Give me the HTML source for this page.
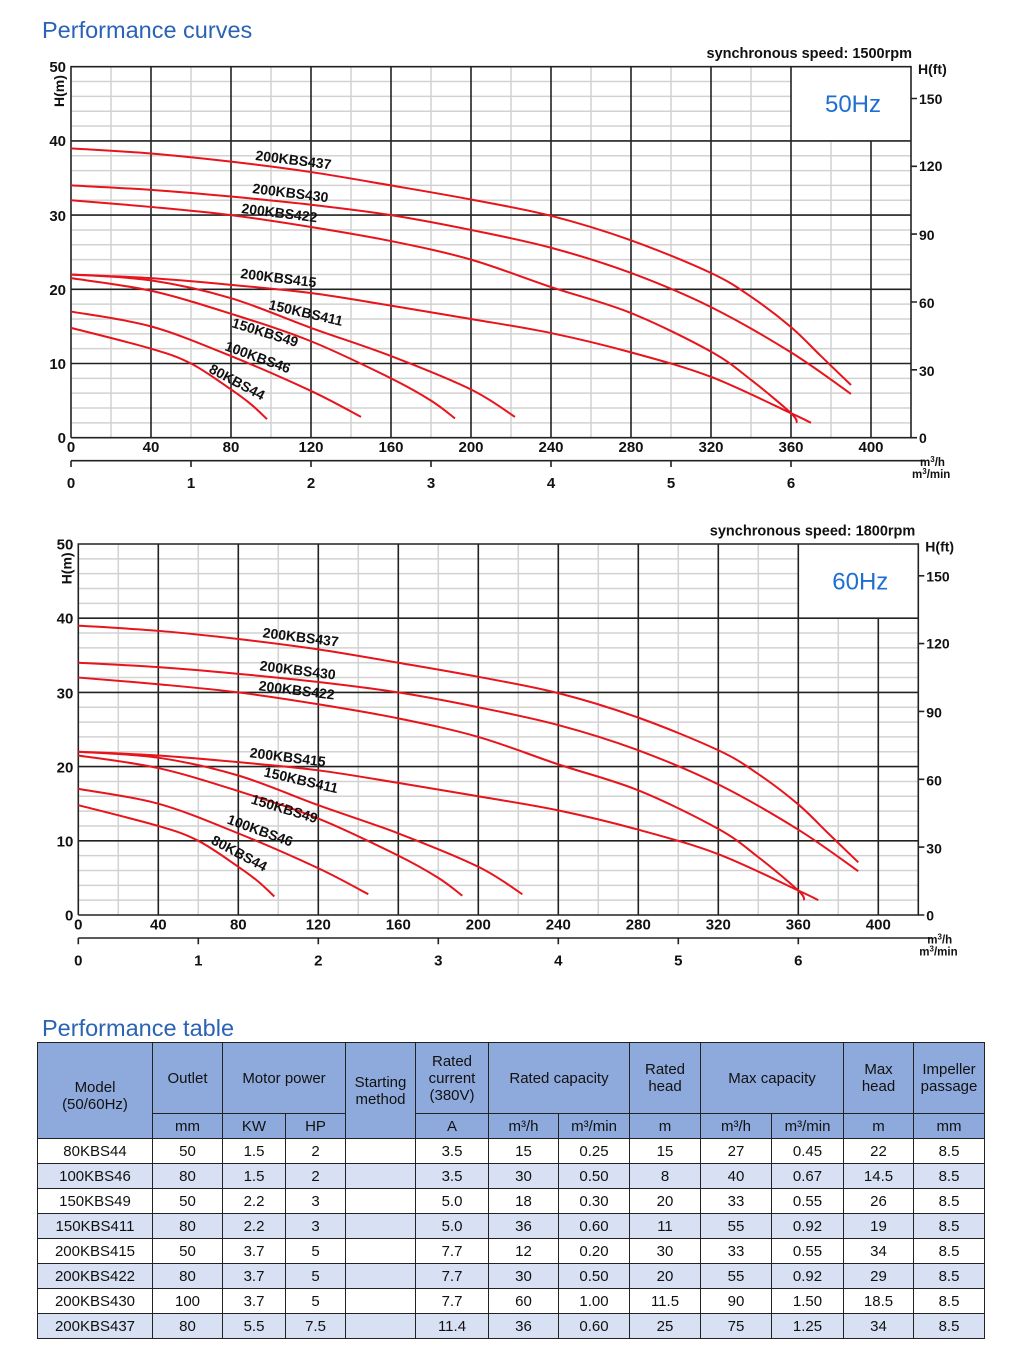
<!DOCTYPE html>
<html><head><meta charset="utf-8"><style>
body{margin:0;background:#fff;width:1021px;height:1359px;position:relative;font-family:"Liberation Sans",sans-serif;overflow:hidden}
.t{position:absolute;color:#2a62b5;font-size:23.5px;left:42px}
table{position:absolute;left:37px;top:1042px;border-collapse:collapse;font-size:15px;color:#111}
td{border:1.5px solid #222;text-align:center;padding:0;height:24px}
.h td{background:#8eaadc}
.a td{background:#d8e0f3}
</style></head><body>
<div class="t" style="top:17px">Performance curves</div>
<div class="t" style="top:1015px">Performance table</div>
<svg width="1021" height="1000" style="position:absolute;left:0;top:0" font-family="Liberation Sans" font-weight="bold">
<defs>
<g id="grid">
<g transform="translate(71,437.7) scale(2,-7.42)" fill="none">
<path vector-effect="non-scaling-stroke" stroke="#d2d2d2" stroke-width="1.5" d="M0 2H420M0 4H420M0 6H420M0 8H420M0 12H420M0 14H420M0 16H420M0 18H420M0 22H420M0 24H420M0 26H420M0 28H420M0 32H420M0 34H420M0 36H420M0 38H420M0 42H360M0 44H360M0 46H360M0 48H360M20 0V50M60 0V50M100 0V50M140 0V50M180 0V50M220 0V50M260 0V50M300 0V50M340 0V50M380 0V40"/>
<path vector-effect="non-scaling-stroke" stroke="#222" stroke-width="1.6" d="M0 10H420M0 20H420M0 30H420M0 40H420M40 0V50M80 0V50M120 0V50M160 0V50M200 0V50M240 0V50M280 0V50M320 0V50M360 0V50M400 0V40M0 0V50H420V0H0"/>
<g id="curves" stroke="#e8141c" stroke-width="2">
<polyline vector-effect="non-scaling-stroke" points="0,39 40,38.3 80,37.2 120,35.8 160,34 200,32.1 240,29.9 280,26.6 320,22.2 340,19 360,14.9 375,11 390,7.1"/>
<polyline vector-effect="non-scaling-stroke" points="0,34 40,33.4 80,32.5 120,31.4 160,30 200,28 240,25.6 280,22.2 320,17.6 360,11.5 390,5.9"/>
<polyline vector-effect="non-scaling-stroke" points="0,32 40,31.1 80,30 120,28.4 160,26.5 200,24 240,20.3 280,16.8 320,11.6 340,7.8 360,3.3 363,2"/>
<polyline vector-effect="non-scaling-stroke" points="0,22 40,21.5 80,20.6 120,19.5 160,17.8 200,16 240,14.1 280,11.5 320,8.2 360,3.3 370,2"/>
<polyline vector-effect="non-scaling-stroke" points="0,22 40,21.2 80,18.8 120,14.8 160,11 200,6.5 222,2.8"/>
<polyline vector-effect="non-scaling-stroke" points="0,21.5 40,19.8 80,16.7 120,13 160,8 180,5 192,2.6"/>
<polyline vector-effect="non-scaling-stroke" points="0,17 40,15 80,11 120,6.3 145,2.8"/>
<polyline vector-effect="non-scaling-stroke" points="0,14.8 40,12 60,10 80,6.5 90,4.5 98,2.5"/>
</g></g>
<path stroke="#222" stroke-width="1.6" fill="none" d="M71 460.7H925M71 460.7V467M191 460.7V467M311 460.7V467M431 460.7V467M551 460.7V467M671 460.7V467M791 460.7V467M911 98.5H917M911 166.3H917M911 234.1H917M911 302H917M911 369.8H917M911 437.7H917"/>
</g>
</defs>
<use href="#grid"/>
<use href="#grid" transform="translate(7.3,477.3)"/>
<g font-size="15" fill="#111">
<g text-anchor="end"><text x="66" y="72">50</text><text x="66" y="146">40</text><text x="66" y="221">30</text><text x="66" y="295">20</text><text x="66" y="369">10</text><text x="66" y="443">0</text></g>
<text transform="translate(64,107) rotate(-90)" font-size="14">H(m)</text>
<g text-anchor="middle"><text x="71" y="452">0</text><text x="151" y="452">40</text><text x="231" y="452">80</text><text x="311" y="452">120</text><text x="391" y="452">160</text><text x="471" y="452">200</text><text x="551" y="452">240</text><text x="631" y="452">280</text><text x="711" y="452">320</text><text x="791" y="452">360</text><text x="871" y="452">400</text>
<text x="71" y="488">0</text><text x="191" y="488">1</text><text x="311" y="488">2</text><text x="431" y="488">3</text><text x="551" y="488">4</text><text x="671" y="488">5</text><text x="791" y="488">6</text></g>
<g font-size="14"><text x="919" y="104">150</text><text x="919" y="171">120</text><text x="919" y="240">90</text><text x="919" y="308">60</text><text x="919" y="376">30</text><text x="919" y="443">0</text><text x="918" y="74">H(ft)</text></g>
<g font-size="11.5"><text x="920" y="466">m<tspan font-size="8" dy="-4">3</tspan><tspan dy="4">/h</tspan></text><text x="912" y="478">m<tspan font-size="8" dy="-4">3</tspan><tspan dy="4">/min</tspan></text></g>
<text x="912" y="58" text-anchor="end" font-size="14.5">synchronous speed: 1500rpm</text>
<text x="853" y="112" text-anchor="middle" font-size="24" font-weight="normal" fill="#1e6fd0">50Hz</text>
<g font-size="14">
<text transform="translate(255,160) rotate(7)">200KBS437</text>
<text transform="translate(252,193) rotate(7)">200KBS430</text>
<text transform="translate(241,213) rotate(7)">200KBS422</text>
<text transform="translate(240,278) rotate(7)">200KBS415</text>
<text transform="translate(268,309) rotate(13)">150KBS411</text>
<text transform="translate(231,327) rotate(17)">150KBS49</text>
<text transform="translate(224,350) rotate(20)">100KBS46</text>
<text transform="translate(208,372) rotate(28)">80KBS44</text>
</g></g>
<g transform="translate(7.3,477.3)" font-size="15" fill="#111">
<g text-anchor="end"><text x="66" y="72">50</text><text x="66" y="146">40</text><text x="66" y="221">30</text><text x="66" y="295">20</text><text x="66" y="369">10</text><text x="66" y="443">0</text></g>
<text transform="translate(64,107) rotate(-90)" font-size="14">H(m)</text>
<g text-anchor="middle"><text x="71" y="452">0</text><text x="151" y="452">40</text><text x="231" y="452">80</text><text x="311" y="452">120</text><text x="391" y="452">160</text><text x="471" y="452">200</text><text x="551" y="452">240</text><text x="631" y="452">280</text><text x="711" y="452">320</text><text x="791" y="452">360</text><text x="871" y="452">400</text>
<text x="71" y="488">0</text><text x="191" y="488">1</text><text x="311" y="488">2</text><text x="431" y="488">3</text><text x="551" y="488">4</text><text x="671" y="488">5</text><text x="791" y="488">6</text></g>
<g font-size="14"><text x="919" y="104">150</text><text x="919" y="171">120</text><text x="919" y="240">90</text><text x="919" y="308">60</text><text x="919" y="376">30</text><text x="919" y="443">0</text><text x="918" y="74">H(ft)</text></g>
<g font-size="11.5"><text x="920" y="466">m<tspan font-size="8" dy="-4">3</tspan><tspan dy="4">/h</tspan></text><text x="912" y="478">m<tspan font-size="8" dy="-4">3</tspan><tspan dy="4">/min</tspan></text></g>
<text x="908" y="58" text-anchor="end" font-size="14.5">synchronous speed: 1800rpm</text>
<text x="853" y="112" text-anchor="middle" font-size="24" font-weight="normal" fill="#1e6fd0">60Hz</text>
<g font-size="14">
<text transform="translate(255,160) rotate(7)">200KBS437</text>
<text transform="translate(252,193) rotate(7)">200KBS430</text>
<text transform="translate(251,213) rotate(7)">200KBS422</text>
<text transform="translate(242,280) rotate(7)">200KBS415</text>
<text transform="translate(256,299) rotate(13)">150KBS411</text>
<text transform="translate(243,326) rotate(17)">150KBS49</text>
<text transform="translate(219,346) rotate(20)">100KBS46</text>
<text transform="translate(203,366) rotate(28)">80KBS44</text>
</g></g>
</svg>
<script>
(function(){
var g=document.getElementById('curves');if(!g)return;
var pls=g.querySelectorAll('polyline');
pls.forEach(function(pl){
var p=pl.getAttribute('points').trim().split(/\s+/).map(function(s){return s.split(',').map(Number);});
var d='M'+p[0][0]+' '+p[0][1];
for(var i=0;i<p.length-1;i++){
var p0=p[i-1]||p[i],p1=p[i],p2=p[i+1],p3=p[i+2]||p2;
var c1=[p1[0]+(p2[0]-p0[0])/6,p1[1]+(p2[1]-p0[1])/6],c2=[p2[0]-(p3[0]-p1[0])/6,p2[1]-(p3[1]-p1[1])/6];
d+='C'+c1[0]+' '+c1[1]+' '+c2[0]+' '+c2[1]+' '+p2[0]+' '+p2[1];}
var path=document.createElementNS('http://www.w3.org/2000/svg','path');
path.setAttribute('d',d);path.setAttribute('vector-effect','non-scaling-stroke');
pl.parentNode.replaceChild(path,pl);});
})();
</script>
<table>
<colgroup><col style="width:115px"><col style="width:70px"><col style="width:63px"><col style="width:60px"><col style="width:70px"><col style="width:73px"><col style="width:70px"><col style="width:71px"><col style="width:71px"><col style="width:71px"><col style="width:72px"><col style="width:70px"><col style="width:71px"></colgroup>
<tr class="h" style="height:71px"><td rowspan="2" style="padding-top:10px">Model<br>(50/60Hz)</td><td>Outlet</td><td colspan="2">Motor power</td><td rowspan="2">Starting<br>method</td><td>Rated<br>current<br>(380V)</td><td colspan="2">Rated capacity</td><td>Rated<br>head</td><td colspan="2">Max capacity</td><td>Max<br>head</td><td>Impeller<br>passage</td></tr>
<tr class="h" style="height:23px"><td>mm</td><td>KW</td><td>HP</td><td>A</td><td>m³/h</td><td>m³/min</td><td>m</td><td>m³/h</td><td>m³/min</td><td>m</td><td>mm</td></tr>
<tr><td>80KBS44</td><td>50</td><td>1.5</td><td>2</td><td></td><td>3.5</td><td>15</td><td>0.25</td><td>15</td><td>27</td><td>0.45</td><td>22</td><td>8.5</td></tr>
<tr class="a"><td>100KBS46</td><td>80</td><td>1.5</td><td>2</td><td></td><td>3.5</td><td>30</td><td>0.50</td><td>8</td><td>40</td><td>0.67</td><td>14.5</td><td>8.5</td></tr>
<tr><td>150KBS49</td><td>50</td><td>2.2</td><td>3</td><td></td><td>5.0</td><td>18</td><td>0.30</td><td>20</td><td>33</td><td>0.55</td><td>26</td><td>8.5</td></tr>
<tr class="a"><td>150KBS411</td><td>80</td><td>2.2</td><td>3</td><td></td><td>5.0</td><td>36</td><td>0.60</td><td>11</td><td>55</td><td>0.92</td><td>19</td><td>8.5</td></tr>
<tr><td>200KBS415</td><td>50</td><td>3.7</td><td>5</td><td></td><td>7.7</td><td>12</td><td>0.20</td><td>30</td><td>33</td><td>0.55</td><td>34</td><td>8.5</td></tr>
<tr class="a"><td>200KBS422</td><td>80</td><td>3.7</td><td>5</td><td></td><td>7.7</td><td>30</td><td>0.50</td><td>20</td><td>55</td><td>0.92</td><td>29</td><td>8.5</td></tr>
<tr><td>200KBS430</td><td>100</td><td>3.7</td><td>5</td><td></td><td>7.7</td><td>60</td><td>1.00</td><td>11.5</td><td>90</td><td>1.50</td><td>18.5</td><td>8.5</td></tr>
<tr class="a"><td>200KBS437</td><td>80</td><td>5.5</td><td>7.5</td><td></td><td>11.4</td><td>36</td><td>0.60</td><td>25</td><td>75</td><td>1.25</td><td>34</td><td>8.5</td></tr>
</table>
</body></html>
